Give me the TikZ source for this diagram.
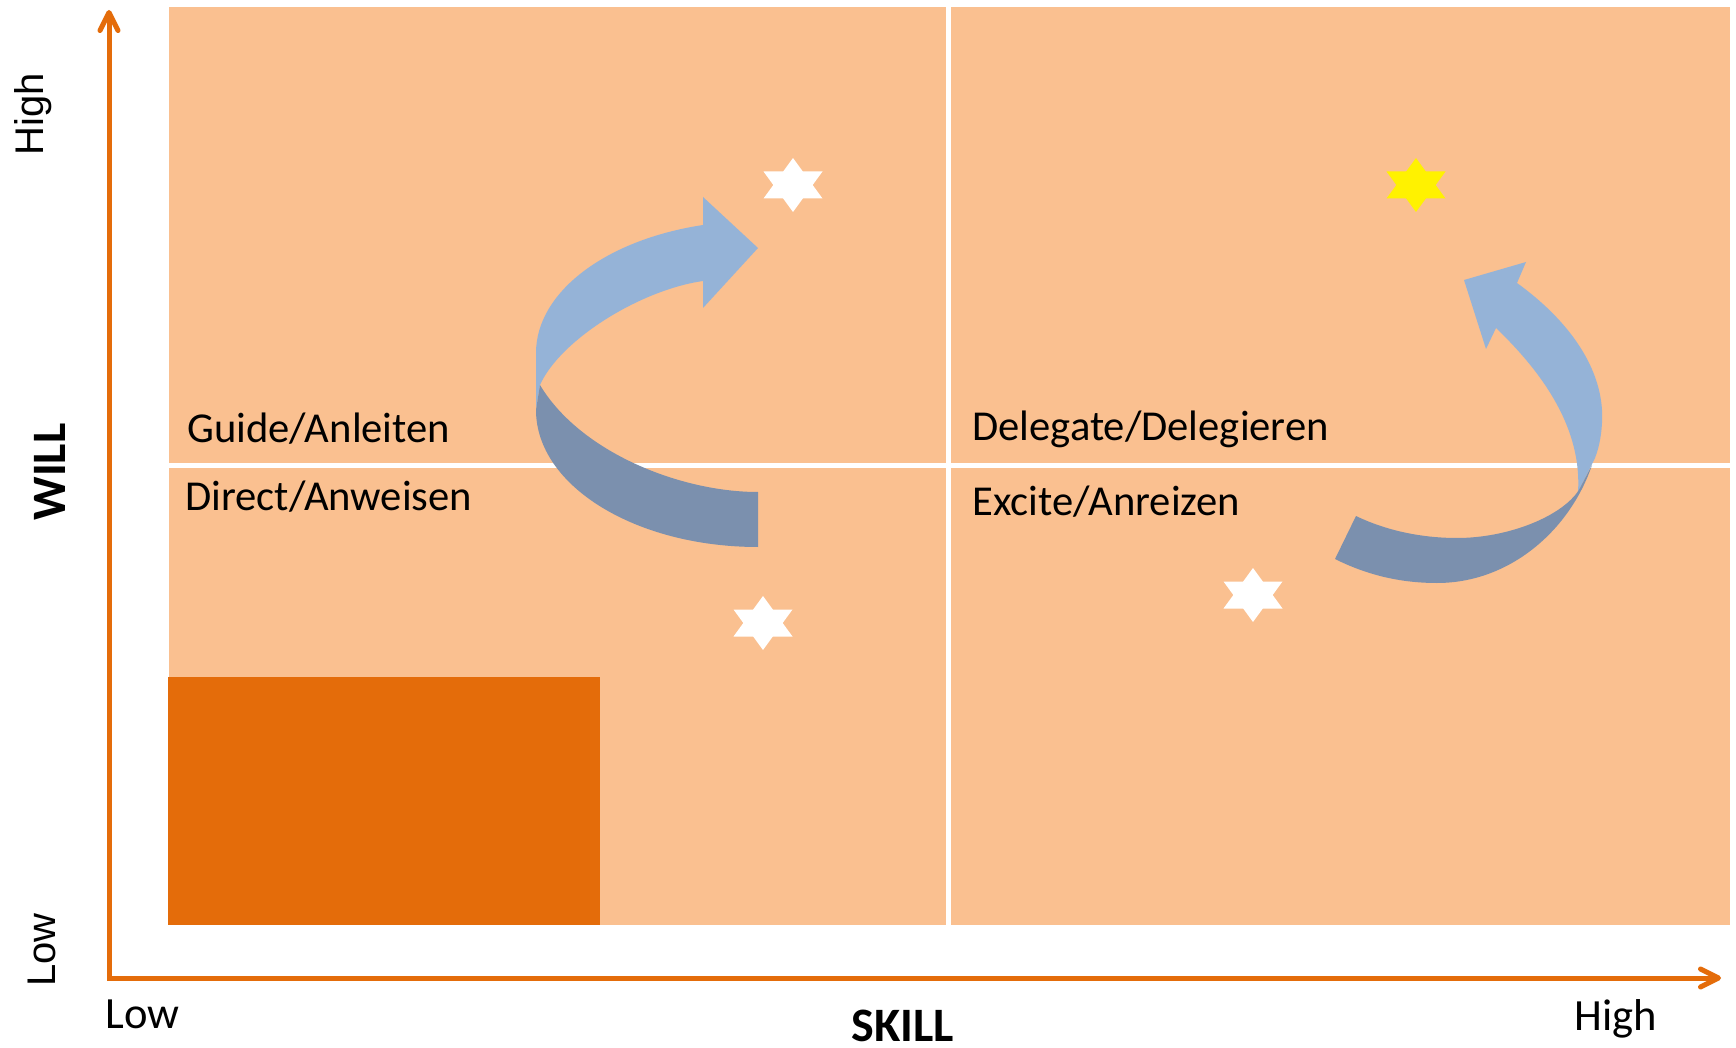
\documentclass[tikz,border=0pt]{standalone}
\usepackage{fontspec}
\setmainfont{Carlito}
\newfontfamily\arialfont{Liberation Sans}
\usetikzlibrary{arrows.meta}
\definecolor{peach}{RGB}{250,192,144}
\definecolor{deeporange}{RGB}{228,108,10}
\definecolor{ribbonlight}{RGB}{149,179,215}
\definecolor{ribbondark}{RGB}{123,144,174}
\begin{document}
\begin{tikzpicture}[x=0.5pt,y=-0.5pt,
  quadrant/.style={fill=peach},
  quadtext/.style={inner sep=0pt, font=\fontsize{21.3}{25}\selectfont},
  ticktext/.style={inner sep=0pt, font=\fontsize{22.3}{26}\selectfont},
  sidetext/.style={inner sep=0pt, rotate=90, anchor=base, font=\arialfont\fontsize{20}{24}\selectfont},
  axistitle/.style={inner sep=0pt, font=\bfseries\fontsize{24}{28}\selectfont},
  axisline/.style={draw=deeporange, line width=2.5pt, line join=miter,
    {Straight Barb[length=9pt,width=9pt,round]}-{Straight Barb[length=9pt,width=9pt,round]}},
  hexstar/.pic={
    \fill (0,-27) -- (29.5,13.5) -- (-29.5,13.5) -- cycle;
    \fill (0,27) -- (29.5,-13.5) -- (-29.5,-13.5) -- cycle;
  }]
\useasboundingbox (0,0) rectangle (1736,1048);
\fill[white] (0,0) rectangle (1736,1048);

% four quadrants separated by thin white gaps
\fill[quadrant] (169,7) rectangle (946,463);
\fill[quadrant] (951,7) rectangle (1730,463);
\fill[quadrant] (169,468) rectangle (946,925);
\fill[quadrant] (951,468) rectangle (1730,925);

% highlighted low/low block
\fill[deeporange] (168,677) rectangle (600,925);

% axes
\coordinate (origin) at (109,978);
\coordinate (ytip) at (109,10);
\coordinate (xtip) at (1721,978);
\draw[axisline] (ytip) -- (origin) -- (xtip);

% quadrant texts
\node[quadtext, anchor=base west] (guide) at (187,443) {Guide/Anleiten};
\node[quadtext, anchor=base west] (direct) at (185,510) {Direct/Anweisen};
\node[quadtext, anchor=base west] (delegate) at (972,440) {Delegate/Delegieren};
\node[quadtext, anchor=base west] (excite) at (972,515) {Excite/Anreizen};

% axis texts
\node[ticktext, anchor=base west] (skilllow) at (105,1028) {Low};
\node[ticktext, anchor=base west] (skillhigh) at (1574,1030) {High};
\node[axistitle, anchor=base west] (skill) at (851,1041) {SKILL};
\node[axistitle, rotate=90, anchor=base] (will) at (65,472) {WILL};
\node[sidetext] (willhigh) at (43,114) {High};
\node[sidetext] (willlow) at (55,950) {Low};

% left ribbon arrow: upper (light) half
\fill[ribbonlight] (536,410) -- (536,353)
  .. controls (536,292.7) and (604.8,239.9) .. (703,225)
  -- (703,197) -- (758,248) -- (703,308) -- (703,281)
  .. controls (640,290) and (560,340) .. (540,385) -- cycle;
% left ribbon arrow: lower (dark) half
\fill[ribbondark] (540,385)
  .. controls (580,452) and (680,492) .. (758,492)
  -- (758,547)
  .. controls (635.4,547) and (536,485.7) .. (536,410) -- cycle;

% right ribbon arrow: upper (light) half
\fill[ribbonlight] (1578,492)
  .. controls (1582,430) and (1545,375) .. (1496,328)
  -- (1486,349) -- (1464,280) -- (1526,262) -- (1517,283)
  .. controls (1575,325) and (1605,375) .. (1602,423)
  .. controls (1601,440) and (1598,450) .. (1595,458) -- cycle;
% right ribbon arrow: lower (dark) half
\fill[ribbondark] (1356,516)
  .. controls (1385,530) and (1420,538) .. (1457,538)
  .. controls (1510,538) and (1565,515) .. (1580,488)
  -- (1592,465)
  .. controls (1570,530) and (1510,583) .. (1437,583)
  .. controls (1405,583) and (1371,577) .. (1335,559) -- cycle;

% stars
\pic[fill=white] at (793,185) {hexstar};
\pic[fill=yellow] at (1416,185) {hexstar};
\pic[fill=white] at (1253,595) {hexstar};
\pic[fill=white] at (763,623) {hexstar};
\end{tikzpicture}
\end{document}
